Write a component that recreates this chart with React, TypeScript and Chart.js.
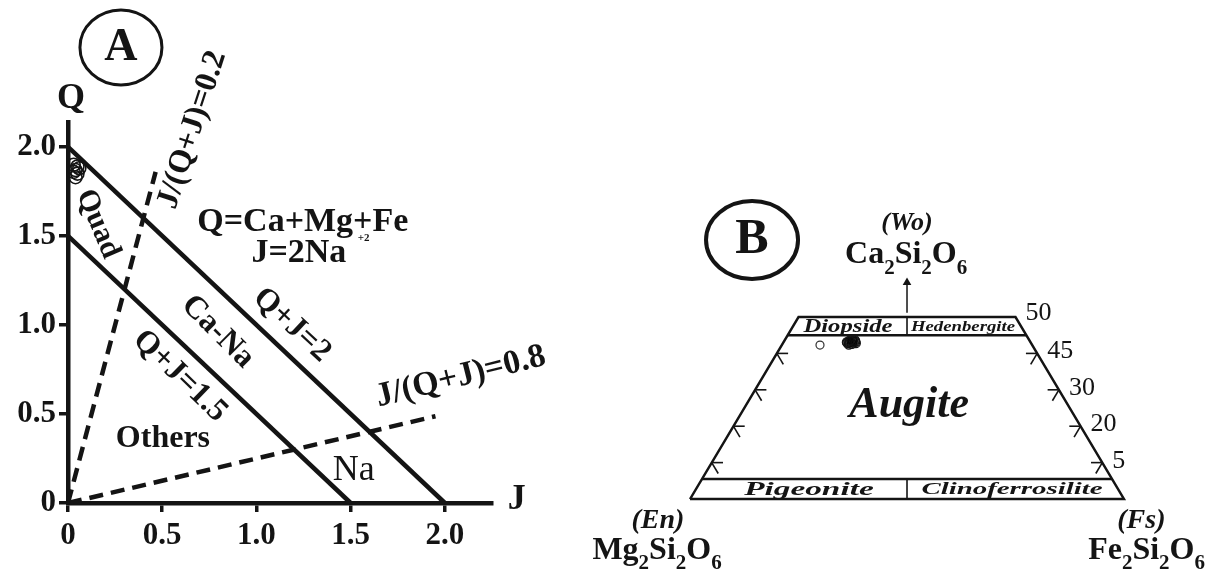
import React, { useEffect, useRef } from "react";
import { Chart, registerables } from "chart.js";

Chart.register(...registerables);

const SERIF = '"Liberation Serif", "Times New Roman", Times, serif';
const INK = "#141414";

// ---------------- Panel A data (J vs Q) ----------------
const jTicks = [0, 0.5, 1.0, 1.5, 2.0];
const jTickLabels = ["0", "0.5", "1.0", "1.5", "2.0"];
const qTicks = [0, 0.5, 1.0, 1.5, 2.0];
const qTickLabels = ["0", "0.5", "1.0", "1.5", "2.0"];
const qj2J = [0, 2.0];
const qj2Q = [2.0, 0];
const qj15J = [0, 1.5];
const qj15Q = [1.5, 0];
const ratio02J = [0, 0.465];
const ratio02Q = [0, 1.86];
const ratio08J = [0, 1.95];
const ratio08Q = [0, 0.4875];
const sampleJ = [0.03, 0.04, 0.05, 0.04, 0.06, 0.03, 0.05];
const sampleQ = [1.9, 1.87, 1.85, 1.83, 1.88, 1.86, 1.89];

// ---------------- Panel B data (ternary %, Wo / Fs) ----------------
const frameWo = [0, 0, 50, 50, 0];
const frameFs = [0, 100, 50, 0, 0];
const wo45Wo = [45, 45];
const wo45Fs = [0, 55];
const wo5Wo = [5.5, 5.5];
const wo5Fs = [0, 94.5];
const topDivWo = [45, 50];
const topDivFs = [27.5, 25];
const botDivWo = [0, 5.5];
const botDivFs = [50, 47.25];
const arrowWo = [51.2, 59.5];
const arrowFs = [24.4, 20.25];
const woTickValues = [40, 30, 20, 10];
const woLabelValues = [50, 40, 30, 20, 10];
const woLabels = ["50", "45", "30", "20", "5"];
const pyxWo = [43.0, 43.4, 42.6, 43.8, 42.9, 43.2, 42.4, 43.6, 42.8, 43.1, 43.5];
const pyxFs = [15.2, 15.8, 16.0, 15.5, 14.8, 16.5, 15.4, 16.2, 16.8, 14.6, 15.0];
const openWo = [42.3];
const openFs = [8.8];

const tern = (wo: number, fs: number) => ({ x: fs + wo / 2, y: wo });

type Item = {
  text?: string;
  formula?: string;
  x: number;
  y: number;
  size: number;
  weight?: string;
  style?: string;
  rot?: number;
  sx?: number;
  align?: CanvasTextAlign;
  subSize?: number;
  subDy?: number;
};
type Ell = { x: number; y: number; rx: number; ry: number; lw: number };

function parseFormula(s: string) {
  const runs: { t: string; sub: boolean }[] = [];
  for (const ch of s) {
    const sub = /[0-9]/.test(ch);
    const last = runs[runs.length - 1];
    if (last && last.sub === sub) last.t += ch;
    else runs.push({ t: ch, sub });
  }
  return runs;
}

function textPlugin(items: Item[], ells: Ell[]) {
  return {
    id: "annots",
    afterDraw(chart: any) {
      const ctx: CanvasRenderingContext2D = chart.ctx;
      const xs = chart.scales.x;
      const ys = chart.scales.y;
      for (const e of ells) {
        ctx.save();
        ctx.beginPath();
        ctx.ellipse(xs.getPixelForValue(e.x), ys.getPixelForValue(e.y), e.rx, e.ry, 0, 0, Math.PI * 2);
        ctx.lineWidth = e.lw;
        ctx.strokeStyle = INK;
        ctx.stroke();
        ctx.restore();
      }
      for (const it of items) {
        const px = xs.getPixelForValue(it.x);
        const py = ys.getPixelForValue(it.y);
        ctx.save();
        ctx.translate(px, py);
        if (it.rot) ctx.rotate((it.rot * Math.PI) / 180);
        if (it.sx) ctx.scale(it.sx, 1);
        ctx.fillStyle = INK;
        const font = (size: number) =>
          `${it.style || "normal"} ${it.weight || "bold"} ${size}px ${SERIF}`;
        if (it.formula) {
          const runs = parseFormula(it.formula);
          ctx.textAlign = "left";
          ctx.textBaseline = "alphabetic";
          let total = 0;
          const ws = runs.map((r) => {
            ctx.font = font(r.sub ? it.subSize || 20 : it.size);
            const w = ctx.measureText(r.t).width;
            total += w;
            return w;
          });
          let x = -total / 2;
          runs.forEach((r, i) => {
            ctx.font = font(r.sub ? it.subSize || 20 : it.size);
            ctx.fillText(r.t, x, r.sub ? it.subDy || 10 : 0);
            x += ws[i];
          });
        } else {
          ctx.font = font(it.size);
          ctx.textAlign = it.align || "center";
          ctx.textBaseline = "middle";
          ctx.fillText(it.text || "", 0, 0);
        }
        ctx.restore();
      }
    },
  };
}

const annotsA: Item[] = [
  { text: "Q", x: 0.016, y: 2.27, size: 36 },
  { text: "J", x: 2.381, y: 0.02, size: 36 },
  { text: "A", x: 0.281, y: 2.555, size: 46 },
  { text: "J/(Q+J)=0.2", x: 0.66, y: 2.096, size: 32, rot: -72 },
  { text: "Quad", x: 0.159, y: 1.567, size: 30, rot: 67 },
  { text: "Q=Ca+Mg+Fe", x: 1.246, y: 1.579, size: 34 },
  { text: "+2", x: 1.569, y: 1.489, size: 11 },
  { text: "J=2Na", x: 1.225, y: 1.404, size: 34 },
  { text: "Q+J=2", x: 1.188, y: 1.0, size: 32, rot: 43 },
  { text: "Ca-Na", x: 0.795, y: 0.961, size: 32, rot: 45 },
  { text: "Q+J=1.5", x: 0.594, y: 0.713, size: 32, rot: 44 },
  { text: "Others", x: 0.504, y: 0.36, size: 32 },
  { text: "Na", x: 1.516, y: 0.185, size: 36, weight: "normal" },
  { text: "J/(Q+J)=0.8", x: 2.084, y: 0.708, size: 34, rot: -14 },
];
const ellsA: Ell[] = [{ x: 0.281, y: 2.559, rx: 41, ry: 37.5, lw: 3 }];

const annotsB: Item[] = [
  { text: "B", x: 14.29, y: 71.15, size: 50 },
  { text: "(Wo)", x: 50.0, y: 75.8, size: 26, style: "italic" },
  { formula: "Ca2Si2O6", x: 49.8, y: 64.8, size: 32, subSize: 21, subDy: 11 },
  { text: "Augite", x: 50.5, y: 25.6, size: 44, style: "italic" },
  { text: "Diopside", x: 36.4, y: 47.1, size: 19, style: "italic", sx: 1.3 },
  { text: "Hedenbergite", x: 62.9, y: 47.3, size: 15, style: "italic", sx: 1.25 },
  { text: "Pigeonite", x: 27.4, y: 2.5, size: 18, style: "italic", sx: 1.85 },
  { text: "Clinoferrosilite", x: 74.2, y: 2.5, size: 17.5, style: "italic", sx: 1.65 },
  { text: "(En)", x: -7.4, y: -6.0, size: 28, style: "italic" },
  { formula: "Mg2Si2O6", x: -7.6, y: -16.5, size: 32, subSize: 21, subDy: 10 },
  { text: "(Fs)", x: 104.0, y: -6.0, size: 28, style: "italic" },
  { formula: "Fe2Si2O6", x: 105.2, y: -16.5, size: 32, subSize: 21, subDy: 10 },
  ...woLabelValues.map((w, i) => ({
    text: woLabels[i],
    x: 100 - w / 2 + 2.3,
    y: w + (w === 50 ? 1.1 : 0.5),
    size: 26,
    weight: "normal",
    align: "left" as CanvasTextAlign,
  })),
];
const ellsB: Ell[] = [{ x: 14.29, y: 71.15, rx: 46, ry: 39, lw: 4 }];

function lineDs(xs: number[], ys: number[], width: number, dash: number[] = []) {
  return {
    type: "line" as const,
    data: xs.map((x, i) => ({ x, y: ys[i] })),
    borderColor: INK,
    borderWidth: width,
    borderDash: dash,
    pointRadius: 0,
    fill: false,
    tension: 0,
    clip: false as any,
    borderCapStyle: "butt" as CanvasLineCap,
  };
}

function ternLine(wo: number[], fs: number[], width: number) {
  const pts = wo.map((w, i) => tern(w, fs[i]));
  return lineDs(pts.map((p) => p.x), pts.map((p) => p.y), width);
}

const tickFont = { family: SERIF, weight: "bold" as const, size: 31 };

function configA(): any {
  return {
    type: "scatter",
    data: {
      datasets: [
        lineDs(qj2J, qj2Q, 4.5),
        lineDs(qj15J, qj15Q, 4.5),
        lineDs(ratio02J, ratio02Q, 4.5, [14, 8]),
        lineDs(ratio08J, ratio08Q, 4.5, [14, 8]),
        {
          type: "scatter",
          data: sampleJ.map((j, i) => ({ x: j, y: sampleQ[i] })),
          pointRadius: 6.5,
          pointBorderWidth: 1.6,
          pointBorderColor: INK,
          pointBackgroundColor: "rgba(0,0,0,0)",
          clip: false,
        },
      ],
    },
    options: {
      responsive: false,
      animation: false,
      events: [],
      layout: { padding: { left: 0, top: 122, right: 88, bottom: 0 }, autoPadding: false },
      plugins: { legend: { display: false }, tooltip: { enabled: false } },
      scales: {
        x: {
          type: "linear",
          position: "bottom",
          min: 0,
          max: 2.25,
          afterBuildTicks: (s: any) => {
            s.ticks = jTicks.map((v) => ({ value: v }));
          },
          afterFit: (s: any) => {
            s.height = 71;
          },
          ticks: {
            callback: (v: any) => jTickLabels[jTicks.indexOf(Number(v))],
            font: tickFont,
            color: INK,
            padding: 5,
            maxRotation: 0,
            autoSkip: false,
          },
          grid: { drawOnChartArea: false, drawTicks: true, tickLength: 9, lineWidth: 3.5, color: INK },
          border: { display: true, width: 4.5, color: INK },
        },
        y: {
          type: "linear",
          position: "left",
          min: 0,
          max: 2.14,
          afterBuildTicks: (s: any) => {
            s.ticks = qTicks.map((v) => ({ value: v }));
          },
          afterFit: (s: any) => {
            s.width = 68;
          },
          ticks: {
            callback: (v: any) => qTickLabels[qTicks.indexOf(Number(v))],
            font: tickFont,
            color: INK,
            padding: 3,
            autoSkip: false,
          },
          grid: { drawOnChartArea: false, drawTicks: true, tickLength: 9, lineWidth: 3.5, color: INK },
          border: { display: true, width: 4.5, color: INK },
        },
      },
    },
    plugins: [textPlugin(annotsA, ellsA)],
  };
}

function configB(): any {
  const ticks: any[] = [];
  woTickValues.forEach((w) => {
    const lx = w / 2;
    ticks.push(lineDs([lx, lx + 2.6], [w, w], 1.6));
    ticks.push(lineDs([lx, lx + 1.5], [w, w - 3], 1.6));
    const rx = 100 - w / 2;
    ticks.push(lineDs([rx, rx - 2.6], [w, w], 1.6));
    ticks.push(lineDs([rx, rx - 1.5], [w, w - 3], 1.6));
  });
  const arrowPts = arrowWo.map((w, i) => tern(w, arrowFs[i]));
  return {
    type: "scatter",
    data: {
      datasets: [
        ternLine(frameWo, frameFs, 2.4),
        ternLine(wo45Wo, wo45Fs, 2.4),
        ternLine(wo5Wo, wo5Fs, 2.4),
        ternLine(topDivWo, topDivFs, 1.6),
        ternLine(botDivWo, botDivFs, 1.6),
        ternLine(arrowWo, arrowFs, 1.5),
        {
          type: "scatter",
          data: [arrowPts[arrowPts.length - 1]],
          pointStyle: "triangle",
          pointRadius: 5,
          pointBorderWidth: 0,
          pointBackgroundColor: INK,
          clip: false,
        },
        ...ticks,
        {
          type: "scatter",
          data: openWo.map((w, i) => tern(w, openFs[i])),
          pointRadius: 4,
          pointBorderWidth: 1.2,
          pointBorderColor: "#333",
          pointBackgroundColor: "#fff",
          clip: false,
        },
        {
          type: "scatter",
          data: pyxWo.map((w, i) => tern(w, pyxFs[i])),
          pointRadius: 4.5,
          pointBorderWidth: 1.3,
          pointBorderColor: INK,
          pointBackgroundColor: "rgba(0,0,0,0.3)",
          clip: false,
        },
      ],
    },
    options: {
      responsive: false,
      animation: false,
      events: [],
      layout: { padding: 0, autoPadding: false },
      plugins: { legend: { display: false }, tooltip: { enabled: false } },
      scales: {
        x: { type: "linear", display: false, min: -25.35, max: 122.35 },
        y: { type: "linear", display: false, min: -20.6, max: 137.09 },
      },
    },
    plugins: [textPlugin(annotsB, ellsB)],
  };
}

export default function App() {
  const refA = useRef<HTMLCanvasElement>(null);
  const refB = useRef<HTMLCanvasElement>(null);
  useEffect(() => {
    const a = new Chart(refA.current as HTMLCanvasElement, configA());
    const b = new Chart(refB.current as HTMLCanvasElement, configB());
    return () => {
      a.destroy();
      b.destroy();
    };
  }, []);
  return (
    <div
      style={{
        position: "fixed",
        left: 0,
        top: 0,
        width: 1221,
        height: 574,
        background: "#fff",
        overflow: "hidden",
      }}
    >
      <canvas
        ref={refA}
        width={580}
        height={574}
        style={{ position: "absolute", left: 0, top: 0, width: 580, height: 574 }}
      />
      <canvas
        ref={refB}
        width={641}
        height={574}
        style={{ position: "absolute", left: 580, top: 0, width: 641, height: 574 }}
      />
    </div>
  );
}
